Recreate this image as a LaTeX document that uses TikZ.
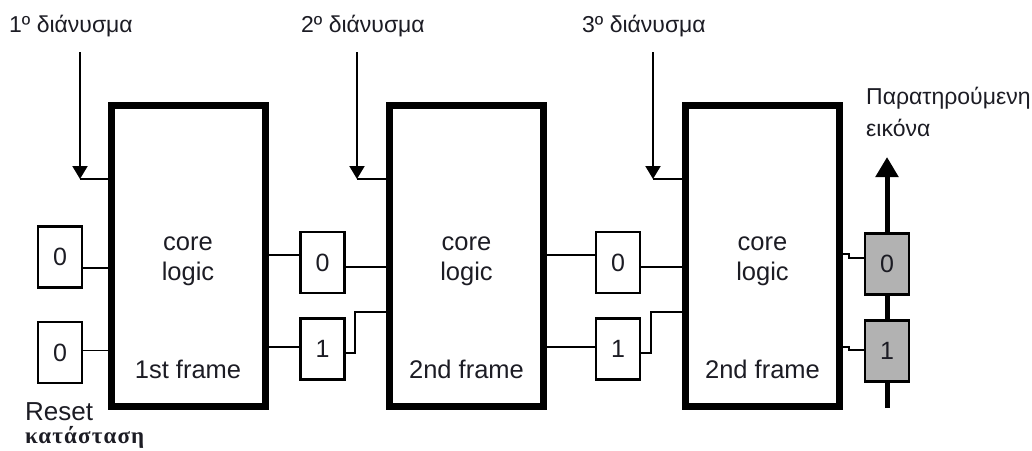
\documentclass[tikz,border=0pt]{standalone}
\usepackage{fontspec}
\setmainfont{Liberation Sans}
\newfontfamily\grserif[LetterSpace=5]{Liberation Serif}
\usetikzlibrary{arrows.meta}
\definecolor{ink}{RGB}{28,28,36}
\definecolor{boxgray}{RGB}{178,178,178}
\begin{document}
\begin{tikzpicture}[x=1pt,y=-1pt,
  core/.style={draw=black,line width=7pt,minimum width=154pt,minimum height=301pt,inner sep=0pt},
  bit/.style={draw=black,line width=2.4pt,fill=white,minimum width=44pt,minimum height=61pt,
    inner sep=0pt,font=\fontsize{25}{25}\selectfont,text=ink},
  outbit/.style={bit,fill=boxgray},
  wire/.style={line width=1.6pt},
  inarrow/.style={line width=2pt,-{Triangle[width=15pt,length=13pt]}},
  outarrow/.style={line width=5pt,-{Triangle[width=22pt,length=20pt]}},
  lbl/.style={font=\fontsize{23}{27}\selectfont,text=ink,inner sep=0pt,anchor=west},
  corelbl/.style={font=\fontsize{25.5}{30}\selectfont,text=ink,align=center,inner sep=0pt}]
\useasboundingbox (0,0) rectangle (1032,450);

% core logic blocks
\node[core] (b1) at (188,255.5) {};
\node[core] (b2) at (466.5,255.5) {};
\node[core] (b3) at (762.5,255.5) {};
\node[corelbl] (c1) at (188,261) {core\\logic};
\node[corelbl] (c2) at (466.5,261) {core\\logic};
\node[corelbl] (c3) at (762.5,261) {core\\logic};
\node[corelbl] (f1) at (188,369) {1st frame};
\node[corelbl] (f2) at (466.5,369) {2nd frame};
\node[corelbl] (f3) at (762.5,369) {2nd frame};

% observed output line with arrow (behind the output bits)
\coordinate (obot) at (887,408);
\coordinate (otop) at (887,157);
\draw[outarrow] (obot) -- (otop);

% state bits
\node[bit] (r0a) at (60,257) {0};
\node[bit] (r0b) at (60,352.5) {0};
\node[bit] (s2a) at (322.5,262.5) {0};
\node[bit] (s2b) at (322.5,349) {1};
\node[bit] (s3a) at (618,262.5) {0};
\node[bit] (s3b) at (618,349) {1};
\node[outbit] (oa) at (887,264) {0};
\node[outbit] (ob) at (887,351) {1};

% reset state into first block
\draw[wire] ([yshift=-11pt]r0a.east) -- ([yshift=-11pt]r0a.east -| b1.west);
\draw[wire] ([yshift=2pt]r0b.east) -- ([yshift=2pt]r0b.east -| b1.west);

% first block to second state
\draw[wire] ([yshift=7.5pt]s2a.west -| b1.east) -- ([yshift=7.5pt]s2a.west);
\draw[wire] ([yshift=2pt]s2b.west -| b1.east) -- ([yshift=2pt]s2b.west);
\draw[wire] ([yshift=-4.5pt]s2a.east) -- ([yshift=-4.5pt]s2a.east -| b2.west);
\draw[wire] ([yshift=-4pt]s2b.east) -- ++(9,0) |- ([yshift=-56.5pt]b2.west);

% second block to third state
\draw[wire] ([yshift=7.5pt]s3a.west -| b2.east) -- ([yshift=7.5pt]s3a.west);
\draw[wire] ([yshift=2pt]s3b.west -| b2.east) -- ([yshift=2pt]s3b.west);
\draw[wire] ([yshift=-4.5pt]s3a.east) -- ([yshift=-4.5pt]s3a.east -| b3.west);
\draw[wire] ([yshift=-4pt]s3b.east) -- ++(10,0) |- ([yshift=-56.5pt]b3.west);

% third block to observed bits
\draw[wire] ([yshift=10pt]oa.west -| b3.east) -- ++(6,0) |- ([yshift=6pt]oa.west);
\draw[wire] ([yshift=4pt]ob.west -| b3.east) -- ++(6,0) |- ([yshift=1pt]ob.west);

% input vectors
\coordinate (v1) at (80,52);
\coordinate (v1e) at (80,179);
\coordinate (v2) at (357,52);
\coordinate (v2e) at (357,179);
\coordinate (v3) at (653,52);
\coordinate (v3e) at (653,179);
\draw[inarrow] (v1) -- (v1e);
\draw[inarrow] (v2) -- (v2e);
\draw[inarrow] (v3) -- (v3e);
\draw[wire] (v1e) -- (v1e -| b1.west);
\draw[wire] (v2e) -- (v2e -| b2.west);
\draw[wire] (v3e) -- (v3e -| b3.west);

% labels
\node[lbl] (t1) at (9,26) {1º διάνυσμα};
\node[lbl] (t2) at (301,26) {2º διάνυσμα};
\node[lbl] (t3) at (582,26) {3º διάνυσμα};
\node[lbl] (t4) at (866,98) {Παρατηρούμενη};
\node[lbl] (t5) at (866,128) {εικόνα};
\node[lbl,font=\fontsize{26}{30}\selectfont] (t6) at (25,412) {Reset};
\node[lbl,font=\fontsize{23}{26}\selectfont\grserif\bfseries] (t7) at (25,437) {κατάσταση};
\end{tikzpicture}
\end{document}
